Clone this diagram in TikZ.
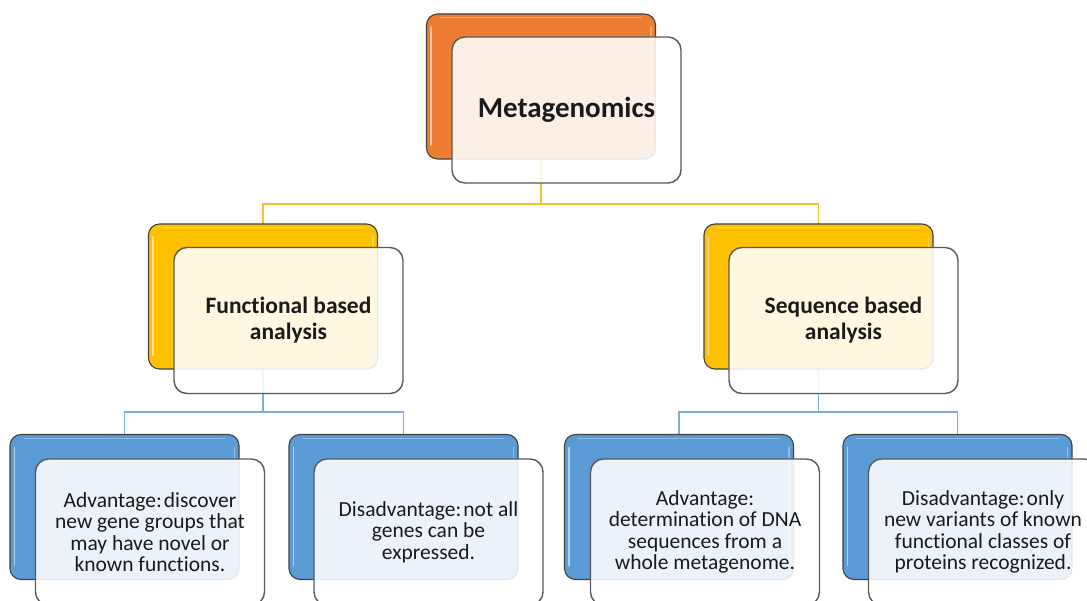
\documentclass[tikz,border=0pt]{standalone}
\usepackage{fontspec}
\setmainfont{Carlito}[Ligatures=NoCommon]
\usetikzlibrary{backgrounds}
\definecolor{orng}{HTML}{ED7D31}
\definecolor{gold}{HTML}{FFC000}
\definecolor{sky}{HTML}{5B9BD5}
\definecolor{backedge}{HTML}{404040}
\definecolor{frontedge}{HTML}{595959}
\definecolor{goldline}{HTML}{F5C232}
\definecolor{blueline}{HTML}{7FAEDC}
\definecolor{ink}{HTML}{1A1A1A}
% narrow gap after a colon
\newcommand{\cgap}{\hspace{0.1em}}
\begin{document}
\begin{tikzpicture}[x=1pt,y=-1pt,
  back/.style={draw=backedge, line width=1.1pt, rounded corners=11pt,
    minimum width=229pt, minimum height=145pt, inner sep=0pt, outer sep=0pt},
  front/.style={draw=frontedge, line width=1.4pt, rounded corners=13pt,
    fill=white, fill opacity=0.88, text opacity=1, text=ink,
    minimum width=229pt, minimum height=146pt, align=center,
    inner sep=0pt, outer sep=0pt},
  toptext/.style={font=\fontsize{29}{34}\selectfont\bfseries},
  midtext/.style={font=\fontsize{23.5}{26}\selectfont\bfseries},
  lowtext/.style={font=\fontsize{21.5}{21.4}\selectfont},
  hl/.style={draw=white, draw opacity=0.55, line width=1.8pt, line cap=round},
  goldlink/.style={draw=goldline, line width=1.4pt},
  bluelink/.style={draw=blueline, line width=1.4pt}]

\useasboundingbox (0,0) rectangle (1087,601);
\clip (0,0) rectangle (1087,601);

% back (coloured) boxes
\node[back, fill=orng] (topB) at (541,86.5) {};
\node[back, fill=gold] (funB) at (263,296.5) {};
\node[back, fill=gold] (seqB) at (818.5,296.5) {};
\node[back, fill=sky] (fadvB) at (124.5,507) {};
\node[back, fill=sky] (fdisB) at (403.5,507) {};
\node[back, fill=sky] (sadvB) at (679,507) {};
\node[back, fill=sky] (sdisB) at (957.5,507) {};

% glossy edge highlights on the coloured boxes
\foreach \n in {topB,funB,seqB,fadvB,fdisB,sadvB,sdisB}{
  \draw[hl] ([xshift=4.5pt,yshift=14pt]\n.south west) -- ([xshift=4.5pt,yshift=-13pt]\n.north west);
  \draw[hl, draw opacity=0.35] ([xshift=-4.5pt,yshift=14pt]\n.south east) -- ([xshift=-4.5pt,yshift=-13pt]\n.north east);
  \draw[hl, draw opacity=0.3, line width=1pt] ([xshift=14pt,yshift=-3.5pt]\n.north west) -- ([xshift=-14pt,yshift=-3.5pt]\n.north east);
}

% white page and connectors, behind the boxes
\begin{pgfonlayer}{background}
  \fill[white] (0,0) rectangle (1087,601);
  \draw[goldlink] (topB.south) -- ++(0,45) -| (funB.north);
  \draw[goldlink] (topB.south) -- ++(0,45) -| (seqB.north);
  \draw[bluelink] (funB.south) -- ++(0,43) -| (fadvB.north);
  \draw[bluelink] (funB.south) -- ++(0,43) -| (fdisB.north);
  \draw[bluelink] (seqB.south) -- ++(0,43) -| (sadvB.north);
  \draw[bluelink] (seqB.south) -- ++(0,43) -| (sdisB.north);
\end{pgfonlayer}

% front (text) boxes
\node[front, toptext] (top) at (566.5,110) {Metagenomics};
\node[front, midtext] (fun) at (288.5,320.5) {Functional based\\analysis};
\node[front, midtext] (seq) at (843.5,320.5) {Sequence based\\analysis};
\node[front, lowtext] (fadv) at (150,532) {Advantage:\cgap discover\\new gene groups that\\may have novel or\\known functions.};
\node[front, lowtext] (fdis) at (428.5,532) {Disadvantage:\cgap not all\\genes can be\\expressed.};
\node[front, lowtext] (sadv) at (705,532) {Advantage:\\determination of DNA\\sequences from a\\whole metagenome.};
\node[front, lowtext] (sdis) at (983,532) {Disadvantage:\cgap only\\new variants of known\\functional classes of\\proteins recognized.};
\end{tikzpicture}
\end{document}
